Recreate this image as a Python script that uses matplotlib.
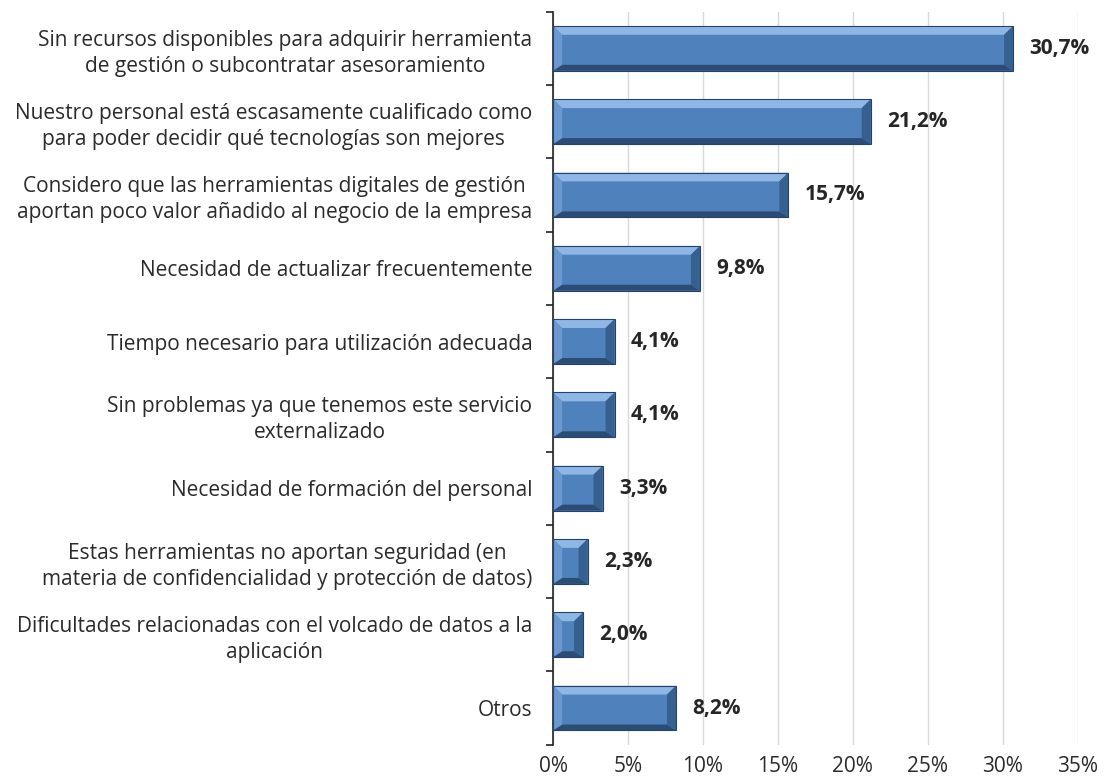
import matplotlib.pyplot as plt
from matplotlib.patches import Polygon, Rectangle
from matplotlib.ticker import FuncFormatter, MultipleLocator
import numpy as np

categorias = [
    "Sin recursos disponibles para adquirir herramienta\nde gestión o subcontratar asesoramiento",
    "Nuestro personal está escasamente cualificado como\npara poder decidir qué tecnologías son mejores",
    "Considero que las herramientas digitales de gestión\naportan poco valor añadido al negocio de la empresa",
    "Necesidad de actualizar frecuentemente",
    "Tiempo necesario para utilización adecuada",
    "Sin problemas ya que tenemos este servicio\nexternalizado",
    "Necesidad de formación del personal",
    "Estas herramientas no aportan seguridad (en\nmateria de confidencialidad y protección de datos)",
    "Dificultades relacionadas con el volcado de datos a la\naplicación",
    "Otros",
]
porcentajes = [30.7, 21.2, 15.7, 9.8, 4.1, 4.1, 3.3, 2.3, 2.0, 8.2]

plt.rcParams['font.family'] = ['Open Sans', 'DejaVu Sans']

fig = plt.figure(figsize=(11.04, 7.79), dpi=100)
ax = fig.add_axes([0.501, 0.044, 0.475, 0.941])

n = len(categorias)
pos = np.arange(n)
alto = 0.61
base = '#4F81BD'
claro = '#8FB7E6'
oscuro = '#2B4C74'
borde = '#25426A'

bw = 0.6    # bevel width in % units
bt = 0.12   # top bevel height in category units
bb = 0.08   # bottom bevel height
for y, v in zip(pos, porcentajes):
    y0, y1 = y - alto / 2, y + alto / 2
    ax.add_patch(Rectangle((0, y0), v, alto, facecolor=base, edgecolor='none', zorder=3))
    b = min(bw, v / 2)
    # top highlight, bottom shadow, end faces
    ax.add_patch(Polygon([(0, y0), (v, y0), (v - b, y0 + bt), (b, y0 + bt)],
                         closed=True, facecolor=claro, edgecolor='none', zorder=4))
    ax.add_patch(Polygon([(0, y1), (v, y1), (v - b, y1 - bb), (b, y1 - bb)],
                         closed=True, facecolor=oscuro, edgecolor='none', zorder=4))
    ax.add_patch(Polygon([(v, y0), (v, y1), (v - b, y1 - bb), (v - b, y0 + bt)],
                         closed=True, facecolor='#36608F', edgecolor='none', zorder=4))
    ax.add_patch(Polygon([(0, y0), (0, y1), (b, y1 - bb), (b, y0 + bt)],
                         closed=True, facecolor='#6A98CF', edgecolor='none', zorder=4))
    ax.add_patch(Rectangle((0, y0), v, alto, facecolor='none', edgecolor=borde,
                           linewidth=0.8, zorder=5))
    ax.text(v + 1.1, y, f"{v:.1f}%".replace('.', ','), va='center', ha='left',
            fontsize=15, fontweight='bold', color='#262626', zorder=6)

ax.set_xlim(0, 35)
ax.set_ylim(n - 0.5, -0.5)
ax.xaxis.set_major_locator(MultipleLocator(5))
ax.xaxis.set_major_formatter(FuncFormatter(lambda x, p: f"{x:.0f}%"))
ax.grid(axis='x', color='#D9D9D9', linewidth=1, zorder=0)

ax.set_yticks(pos)
ax.set_yticklabels(categorias, fontsize=15, color='#2b2b2b')
for t in ax.get_yticklabels():
    t.set_multialignment('center')
    t.set_linespacing(1.3)
ax.set_yticks(np.arange(n + 1) - 0.5, minor=True)
ax.tick_params(axis='y', which='major', length=0, pad=15)
ax.tick_params(axis='y', which='minor', length=5, width=1.2, color='#222222', direction='out')
ax.tick_params(axis='x', length=0, labelsize=15, labelcolor='#2b2b2b', pad=8)

for s in ['top', 'right', 'bottom']:
    ax.spines[s].set_visible(False)
ax.spines['left'].set_color('#222222')
ax.spines['left'].set_linewidth(1.2)

fig.savefig('out.png', dpi=100)
